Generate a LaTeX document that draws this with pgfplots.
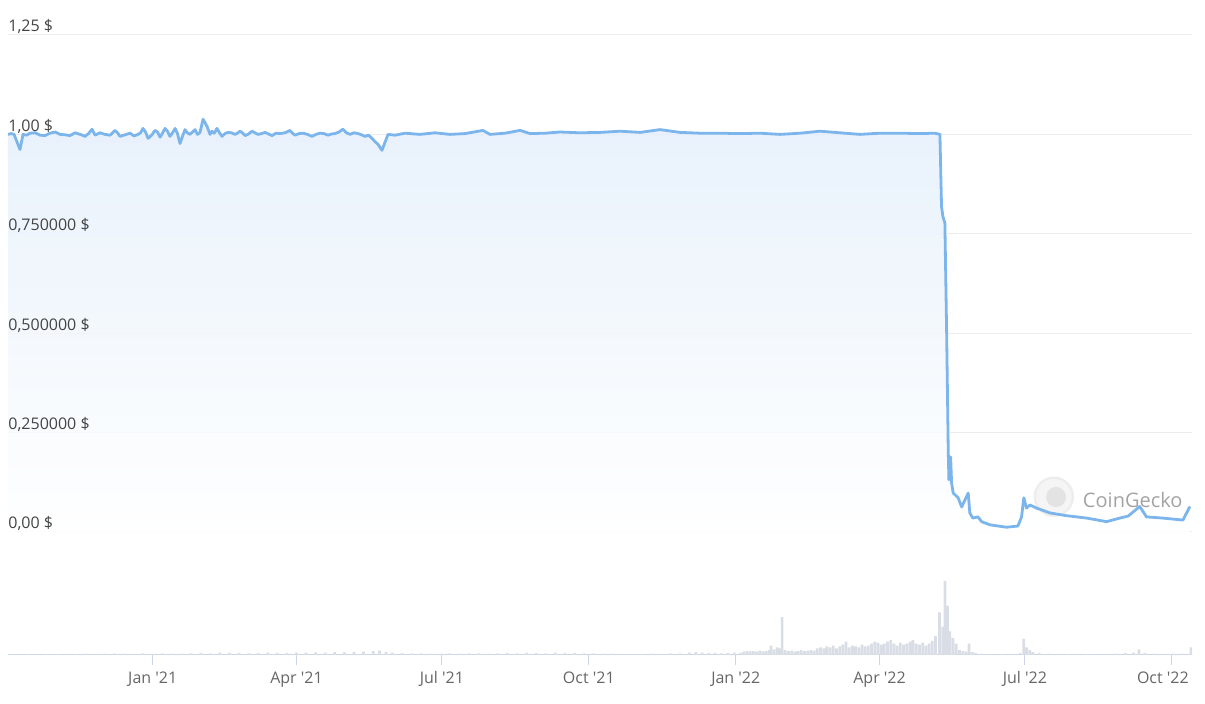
\documentclass[border=0pt]{standalone}
\usepackage{fontspec}
\setmainfont{Open Sans}
\usepackage{pgfplots}
\usepackage{pgfplotstable}
\pgfplotsset{compat=1.18}

\definecolor{uline}{HTML}{7CB5EC}
\definecolor{ufill}{HTML}{E4EFFB}
\definecolor{gridc}{HTML}{EDEDED}
\definecolor{axisc}{HTML}{CCD6EB}
\definecolor{volc}{HTML}{D9DDE5}
\definecolor{labc}{HTML}{444444}
\definecolor{xlabc}{HTML}{666666}
\definecolor{wmark}{HTML}{A3A3A3}

% price in USD, x = days since 1 Jan 2021
\pgfplotstableread{
day price
-90.6 1.000
-88.7 1.002
-86.8 1.000
-83.1 0.962
-81.2 1.000
-79.0 0.998
-76.8 1.003
-73.6 1.004
-70.5 0.998
-67.4 0.997
-64.3 1.003
-61.1 1.006
-58.0 1.000
-54.9 0.999
-51.8 0.997
-48.6 1.004
-45.5 1.000
-44.0 0.998
-42.4 0.995
-40.2 1.002
-38.0 1.013
-36.1 0.998
-33.0 1.004
-29.9 1.000
-26.7 0.998
-23.6 1.010
-22.0 1.004
-20.5 0.995
-17.3 0.999
-14.2 1.003
-11.7 0.996
-9.2 1.000
-7.6 1.004
-6.1 1.015
-4.5 1.006
-2.9 0.990
-0.7 0.998
1.4 1.010
3.0 1.006
4.6 0.993
6.1 1.003
7.7 1.015
9.2 1.008
10.8 0.995
12.4 1.004
14.0 1.015
15.5 1.002
17.1 0.977
18.6 0.995
20.2 1.012
21.7 1.004
23.3 1.000
24.9 1.006
26.5 1.012
28.0 1.000
29.6 1.005
31.5 1.038
32.7 1.030
34.0 1.020
35.9 1.000
37.1 1.008
38.4 1.003
39.3 1.008
40.2 1.015
41.8 1.004
43.4 0.995
45.2 1.002
47.1 1.005
49.3 1.004
51.5 1.000
53.0 1.003
54.6 1.008
56.2 1.004
57.8 0.997
60.0 1.001
62.1 1.008
64.0 1.004
65.9 1.000
68.1 1.002
70.3 1.005
72.5 1.001
74.7 0.997
77.2 1.003
79.7 1.002
82.8 1.004
85.9 1.010
87.5 1.003
89.1 0.998
91.6 1.002
94.1 1.003
96.9 1.000
99.7 0.995
102.2 1.000
104.7 1.003
107.2 1.002
109.7 0.998
111.9 1.001
114.1 1.002
116.6 1.006
119.1 1.013
121.3 1.004
123.5 1.000
126.0 1.004
128.5 1.002
130.7 0.999
132.9 0.995
135.1 0.998
137.3 0.990
139.1 0.982
141.0 0.975
143.5 0.960
145.4 0.980
147.3 1.000
151.7 0.998
157.9 1.003
167.3 1.000
176.7 1.004
186.1 1.000
195.5 1.002
206.7 1.010
211.1 1.000
220.5 1.003
230.0 1.010
236.2 1.002
245.6 1.003
255.0 1.006
267.5 1.004
280.0 1.005
292.6 1.008
305.1 1.005
317.6 1.012
330.1 1.005
342.6 1.003
355.1 1.003
367.6 1.002
380.1 1.003
392.7 1.000
405.2 1.003
417.7 1.008
430.2 1.004
442.7 1.000
455.2 1.003
467.7 1.003
480.3 1.002
489.6 1.003
492.8 1.000
493.8 0.818
494.7 0.793
495.9 0.777
497.0 0.500
498.0 0.206
498.4 0.131
499.5 0.189
500.1 0.123
501.1 0.098
504.2 0.086
506.4 0.063
510.5 0.098
511.5 0.048
513.4 0.035
516.6 0.038
518.9 0.026
524.1 0.018
534.5 0.012
541.6 0.015
543.9 0.038
545.3 0.086
547.0 0.060
549.1 0.068
553.3 0.060
559.6 0.051
561.6 0.048
572.1 0.041
584.6 0.035
597.1 0.026
605.4 0.035
610.6 0.040
617.9 0.064
622.1 0.038
632.3 0.035
644.9 0.030
649.3 0.064
}\price

% trading volume, relative units
\pgfplotstableread{
day vol
-90 0.5
-84 0.6
-78 0.8
-72 0.7
-66 1.0
-60 0.8
-54 1.2
-48 1.0
-42 1.5
-36 1.2
-30 1.4
-24 1.8
-18 1.5
-12 1.2
-6 1.6
0 1.3
6 1.8
12 1.5
18 1.4
24 1.6
30 2.0
36 1.8
42 2.5
48 2.2
54 2.0
60 1.8
66 2.0
72 2.4
78 2.2
84 2.0
90 2.6
96 2.4
102 2.8
108 2.5
114 3.0
120 2.8
126 3.2
132 3.5
138 4.0
142 4.5
146 3.2
150 2.5
156 2.0
162 1.8
168 1.6
174 1.5
180 1.4
186 1.6
192 1.5
198 1.8
204 1.6
210 1.5
216 1.8
222 2.0
228 1.7
234 2.2
240 2.0
246 1.8
252 2.4
258 2.2
264 2.0
270 1.8
276 1.6
282 1.5
288 1.4
294 1.2
300 1.3
306 1.2
312 1.4
318 1.3
324 1.6
330 1.8
336 2.5
340 3.0
344 2.5
348 2.0
352 2.2
356 1.8
360 2.0
364 2.4
368 2.2
370 3.5
372 4.0
374 3.8
376 4.2
378 3.5
380 4.5
382 3.8
384 4.0
386 5.0
387 10
389 6
391 8
392.5 7
394 40
396 5
398 4
400 4.5
402 3.5
404 4
406 5
408 4
410 4.5
412 5
414 4.5
416 7
418 8
420 7
422 9
424 8
426 10
428 7
430 9
432 11
434 14
436 8
438 10
440 9
442 8
444 11
446 9
448 10
450 12
452 14
454 13
456 11
458 12
460 14
462 16
464 12
466 10
468 13
470 11
472 12
474 14
476 16
478 12
480 11
482 13
484 10
486 12
488 15
490 20
492.5 45
494.5 30
496 78
497.5 52
499 25
501 18
503 12
505 5
507 4
509 3.5
511 12
513 3
515 2
519 1.5
525 1.2
531 1.0
537 1.2
543 2
545.3 17
547 8
549 5
551 3
555 2
561 1.5
567 1.2
573 1.0
579 1.2
585 1.0
591 1.3
597 1.2
603 1.5
609 2.0
614 2.5
617.4 6
621 2
627 1.5
633 1.2
639 1.4
645 1.5
650 8
}\volume

\begin{document}
\begin{tikzpicture}
\path[use as bounding box] (-4pt,-86pt) rectangle (598.5pt,266pt);

% price axis: grid, area and line
\begin{axis}[
  at={(0pt,0pt)}, anchor=south west,
  scale only axis, width=592pt, height=248.5pt,
  xmin=-90.6, xmax=650.6, ymin=0, ymax=1.25,
  axis line style={draw=none},
  xtick=\empty,
  ytick={0,0.25,0.5,0.75,1,1.25},
  yticklabels=\empty,
  ymajorgrids, grid style={gridc, line width=0.5pt},
  major tick length=0pt,
]
\addplot[draw=none, top color=ufill, bottom color=white, fill opacity=0.85]
  table[x=day, y=price]{\price} \closedcycle;
\node[circle, minimum size=19pt, fill=gray!8, draw=gray!14, line width=1.2pt, inner sep=0pt]
  at (axis cs:564.1,0.0888) {};
\node[circle, minimum size=10pt, fill=gray!22, inner sep=0pt] at (axis cs:565.5,0.088) {};
\node[anchor=west, inner sep=0pt, text=wmark, font=\fontsize{10}{12}\selectfont]
  at (axis cs:582.1,0.0805) {CoinGecko};
\addplot[uline, line width=1.4pt, line join=round] table[x=day, y=price]{\price};
\end{axis}

% price tick labels on top of the area
\begin{axis}[
  at={(0pt,0pt)}, anchor=south west,
  scale only axis, width=592pt, height=248.5pt,
  xmin=-90.6, xmax=650.6, ymin=0, ymax=1.25,
  axis line style={draw=none},
  xtick=\empty,
  ytick={0,0.25,0.5,0.75,1,1.25},
  yticklabels={{0,00 \$},{0,250000 \$},{0,500000 \$},{0,750000 \$},{1,00 \$},{1,25 \$}},
  major tick length=0pt,
  yticklabel style={anchor=base west, inner sep=0pt, yshift=1.5pt,
    font=\fontsize{8}{9}\selectfont, text=labc},
]
\end{axis}

% volume axis
\begin{axis}[
  at={(0pt,-61.5pt)}, anchor=south west,
  scale only axis, width=592pt, height=37pt,
  xmin=-90.6, xmax=650.6, ymin=0, ymax=78,
  axis x line=bottom, axis y line=none,
  x axis line style={axisc, line width=0.5pt, -},
  xtick={0,90,181,273,365,455,546},
  xticklabels={Jan \textquotesingle21, Apr \textquotesingle21, Jul \textquotesingle21, Oct \textquotesingle21,
    Jan \textquotesingle22, Apr \textquotesingle22, Jul \textquotesingle22},
  extra x ticks={638}, extra x tick labels={Oct \textquotesingle22},
  extra x tick style={xticklabel style={xshift=-4.5pt}},
  xtick align=outside, major tick length=5pt,
  tick style={axisc, line width=0.5pt},
  xticklabel style={font=\fontsize{8}{9}\selectfont, text=xlabc, anchor=base, yshift=-9.5pt},
  ytick=\empty,
]
\addplot[ybar, bar width=1.7, fill=volc, draw=none] table[x=day, y=vol]{\volume};
\end{axis}
\end{tikzpicture}
\end{document}
